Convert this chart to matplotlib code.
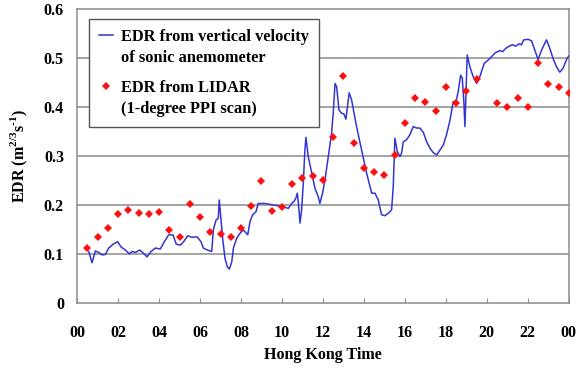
#Plot EDR from sonic anemometer vs LIDAR over one day (Hong Kong time)

import numpy as np
import matplotlib
matplotlib.use('Agg')
import matplotlib.pyplot as plt
from matplotlib.ticker import FuncFormatter

######## DATA ##################################################################
sonicHours = [0.57, 0.73, 0.89, 1.06, 1.22, 1.38, 1.54, 1.76, 1.98, 2.15, 2.36,
              2.55, 2.68, 2.85, 3.06, 3.25, 3.41, 3.61, 3.82, 4.06, 4.26, 4.47,
              4.68, 4.84, 5.04, 5.20, 5.40, 5.61, 5.85, 6.05, 6.16, 6.36, 6.57,
              6.65, 6.78, 6.89, 6.94, 7.01, 7.11, 7.22, 7.33, 7.43, 7.55, 7.63,
              7.79, 7.95, 8.11, 8.33, 8.44, 8.57, 8.73, 8.84, 9.17, 9.58, 9.98,
              10.31, 10.47, 10.59, 10.68, 10.75, 10.81, 10.88, 10.96, 11.04,
              11.12, 11.17, 11.28, 11.45, 11.61, 11.77, 11.85, 11.98, 12.10,
              12.26, 12.42, 12.50, 12.59, 12.67, 12.78, 12.91, 13.02, 13.12,
              13.28, 13.40, 13.64, 13.89, 14.13, 14.38, 14.54, 14.70, 14.86,
              15.02, 15.19, 15.35, 15.43, 15.51, 15.63, 15.76, 15.84, 15.92,
              16.08, 16.24, 16.41, 16.57, 16.73, 16.90, 17.06, 17.22, 17.38,
              17.55, 17.71, 17.87, 18.03, 18.20, 18.36, 18.49, 18.60, 18.72,
              18.80, 18.88, 18.93, 18.98, 19.04, 19.17, 19.33, 19.50, 19.66,
              19.87, 20.15, 20.39, 20.63, 20.77, 20.93, 21.09, 21.25, 21.41,
              21.58, 21.69, 21.80, 22.02, 22.18, 22.34, 22.50, 22.67, 22.91,
              23.07, 23.23, 23.40, 23.56, 23.72, 23.89, 24.00]
sonicEdr = [0.105, 0.082, 0.106, 0.103, 0.098, 0.099, 0.112, 0.120, 0.125, 0.114,
            0.108, 0.100, 0.105, 0.103, 0.108, 0.101, 0.094, 0.105, 0.112, 0.110,
            0.125, 0.139, 0.139, 0.120, 0.118, 0.125, 0.137, 0.134, 0.135, 0.125,
            0.112, 0.108, 0.105, 0.149, 0.169, 0.173, 0.210, 0.176, 0.129, 0.091,
            0.074, 0.069, 0.084, 0.112, 0.132, 0.142, 0.149, 0.139, 0.166, 0.180,
            0.186, 0.203, 0.203, 0.200, 0.197, 0.193, 0.203, 0.207, 0.214, 0.224,
            0.200, 0.163, 0.190, 0.244, 0.312, 0.338, 0.299, 0.265, 0.234, 0.217,
            0.203, 0.224, 0.251, 0.299, 0.346, 0.387, 0.448, 0.441, 0.394, 0.387,
            0.386, 0.375, 0.429, 0.414, 0.360, 0.312, 0.265, 0.224, 0.224, 0.210,
            0.180, 0.178, 0.183, 0.190, 0.237, 0.336, 0.309, 0.299, 0.306, 0.329,
            0.333, 0.343, 0.360, 0.357, 0.357, 0.348, 0.329, 0.316, 0.307, 0.302,
            0.312, 0.322, 0.343, 0.373, 0.411, 0.411, 0.431, 0.465, 0.459, 0.408,
            0.360, 0.428, 0.506, 0.482, 0.462, 0.448, 0.462, 0.489, 0.499, 0.510,
            0.515, 0.513, 0.520, 0.524, 0.527, 0.524, 0.529, 0.527, 0.537, 0.538,
            0.535, 0.516, 0.497, 0.516, 0.537, 0.520, 0.499, 0.482, 0.471, 0.479,
            0.497, 0.504]

lidarHours = [0.5, 1.0, 1.5, 2.0, 2.5, 3.0, 3.5, 4.0, 4.5, 5.0, 5.5, 6.0, 6.5,
              7.0, 7.5, 8.0, 8.5, 9.0, 9.5, 10.0, 10.5, 11.0, 11.5, 12.0, 12.5,
              13.0, 13.5, 14.0, 14.5, 15.0, 15.5, 16.0, 16.5, 17.0, 17.5, 18.0,
              18.5, 19.0, 19.5, 20.5, 21.0, 21.5, 22.0, 22.5, 23.0, 23.5, 24.0]
lidarEdr = [0.113, 0.135, 0.152, 0.181, 0.189, 0.184, 0.182, 0.186, 0.149, 0.134,
            0.201, 0.176, 0.145, 0.141, 0.135, 0.152, 0.197, 0.249, 0.188, 0.196,
            0.242, 0.254, 0.260, 0.251, 0.339, 0.464, 0.327, 0.276, 0.267, 0.261,
            0.302, 0.368, 0.419, 0.410, 0.392, 0.441, 0.408, 0.433, 0.457, 0.409,
            0.399, 0.418, 0.400, 0.490, 0.446, 0.441, 0.428]

xTicks = list(range(0, 25, 2))
xTickLabels = ['00', '02', '04', '06', '08', '10', '12', '14', '16', '18', '20',
               '22', '00']
yTicks = [0, 0.1, 0.2, 0.3, 0.4, 0.5, 0.6]
################################################################################

plt.rcParams['font.family'] = ['Liberation Serif', 'DejaVu Serif']
plt.rcParams['font.weight'] = 'bold'
plt.rcParams['mathtext.fontset'] = 'custom'
plt.rcParams['mathtext.bf'] = 'Liberation Serif:bold'
plt.rcParams['mathtext.rm'] = 'Liberation Serif:bold'

def fmtY(val, pos):
    if val == 0: return '0'
    return '%.1f' % val

def makePlot():
    fig = plt.figure(figsize=(5.84, 3.74), dpi=100)
    ax = fig.add_axes([0.132, 0.19, 0.842, 0.786])
    grey = '#8c8c8c'
    for yv in yTicks[1:-1]:
        ax.axhline(yv, color=grey, linewidth=1.1, zorder=1)
    ax.plot(sonicHours, sonicEdr, color='#3434d4', linewidth=1.1, zorder=3,
            label='EDR from vertical velocity\nof sonic anemometer')
    ax.plot(lidarHours, lidarEdr, linestyle='none', marker='D', markersize=4.0,
            color='#ff1010', markeredgewidth=0, zorder=4,
            label='EDR from LIDAR\n(1-degree PPI scan)')
    ax.set_xlim(0, 24)
    ax.set_ylim(0, 0.6)
    ax.set_xticks(xTicks)
    ax.set_xticklabels(xTickLabels)
    ax.set_yticks(yTicks)
    ax.yaxis.set_major_formatter(FuncFormatter(fmtY))
    ax.tick_params(axis='x', direction='in', length=3.5, width=0.8, color=grey,
                   pad=16, labelsize=11.5)
    ax.tick_params(axis='y', length=0, pad=9.5, labelsize=11.5)
    for sp in ax.spines.values():
        sp.set_color(grey)
        sp.set_linewidth(1.1)
    ax.set_xlabel('Hong Kong Time', fontsize=11.5, fontweight='bold')
    ax.xaxis.set_label_coords(0.5, -0.15)
    ax.set_ylabel('EDR (m$^{\\mathbf{2/3}}$s$^{\\text{-1}}$)', fontsize=11.5,
                  fontweight='bold')
    ax.yaxis.set_label_coords(-0.095, 0.5)
    leg = ax.legend(loc='upper left', bbox_to_anchor=(0.024, 0.966),
                    borderaxespad=0, fontsize=11.8, handlelength=0.9,
                    handletextpad=0.45, labelspacing=0.9, borderpad=0.6,
                    fancybox=False, framealpha=1, edgecolor='#555555')
    leg.get_frame().set_linewidth(1.0)
    for txt in leg.get_texts():
        txt.set_linespacing(1.4)
    # put handle beside the first line of each two-line label
    for col in leg._legend_handle_box.get_children():
        for item in col.get_children():
            item.align = 'top'
    fig.savefig('out.png', dpi=100)

makePlot()
